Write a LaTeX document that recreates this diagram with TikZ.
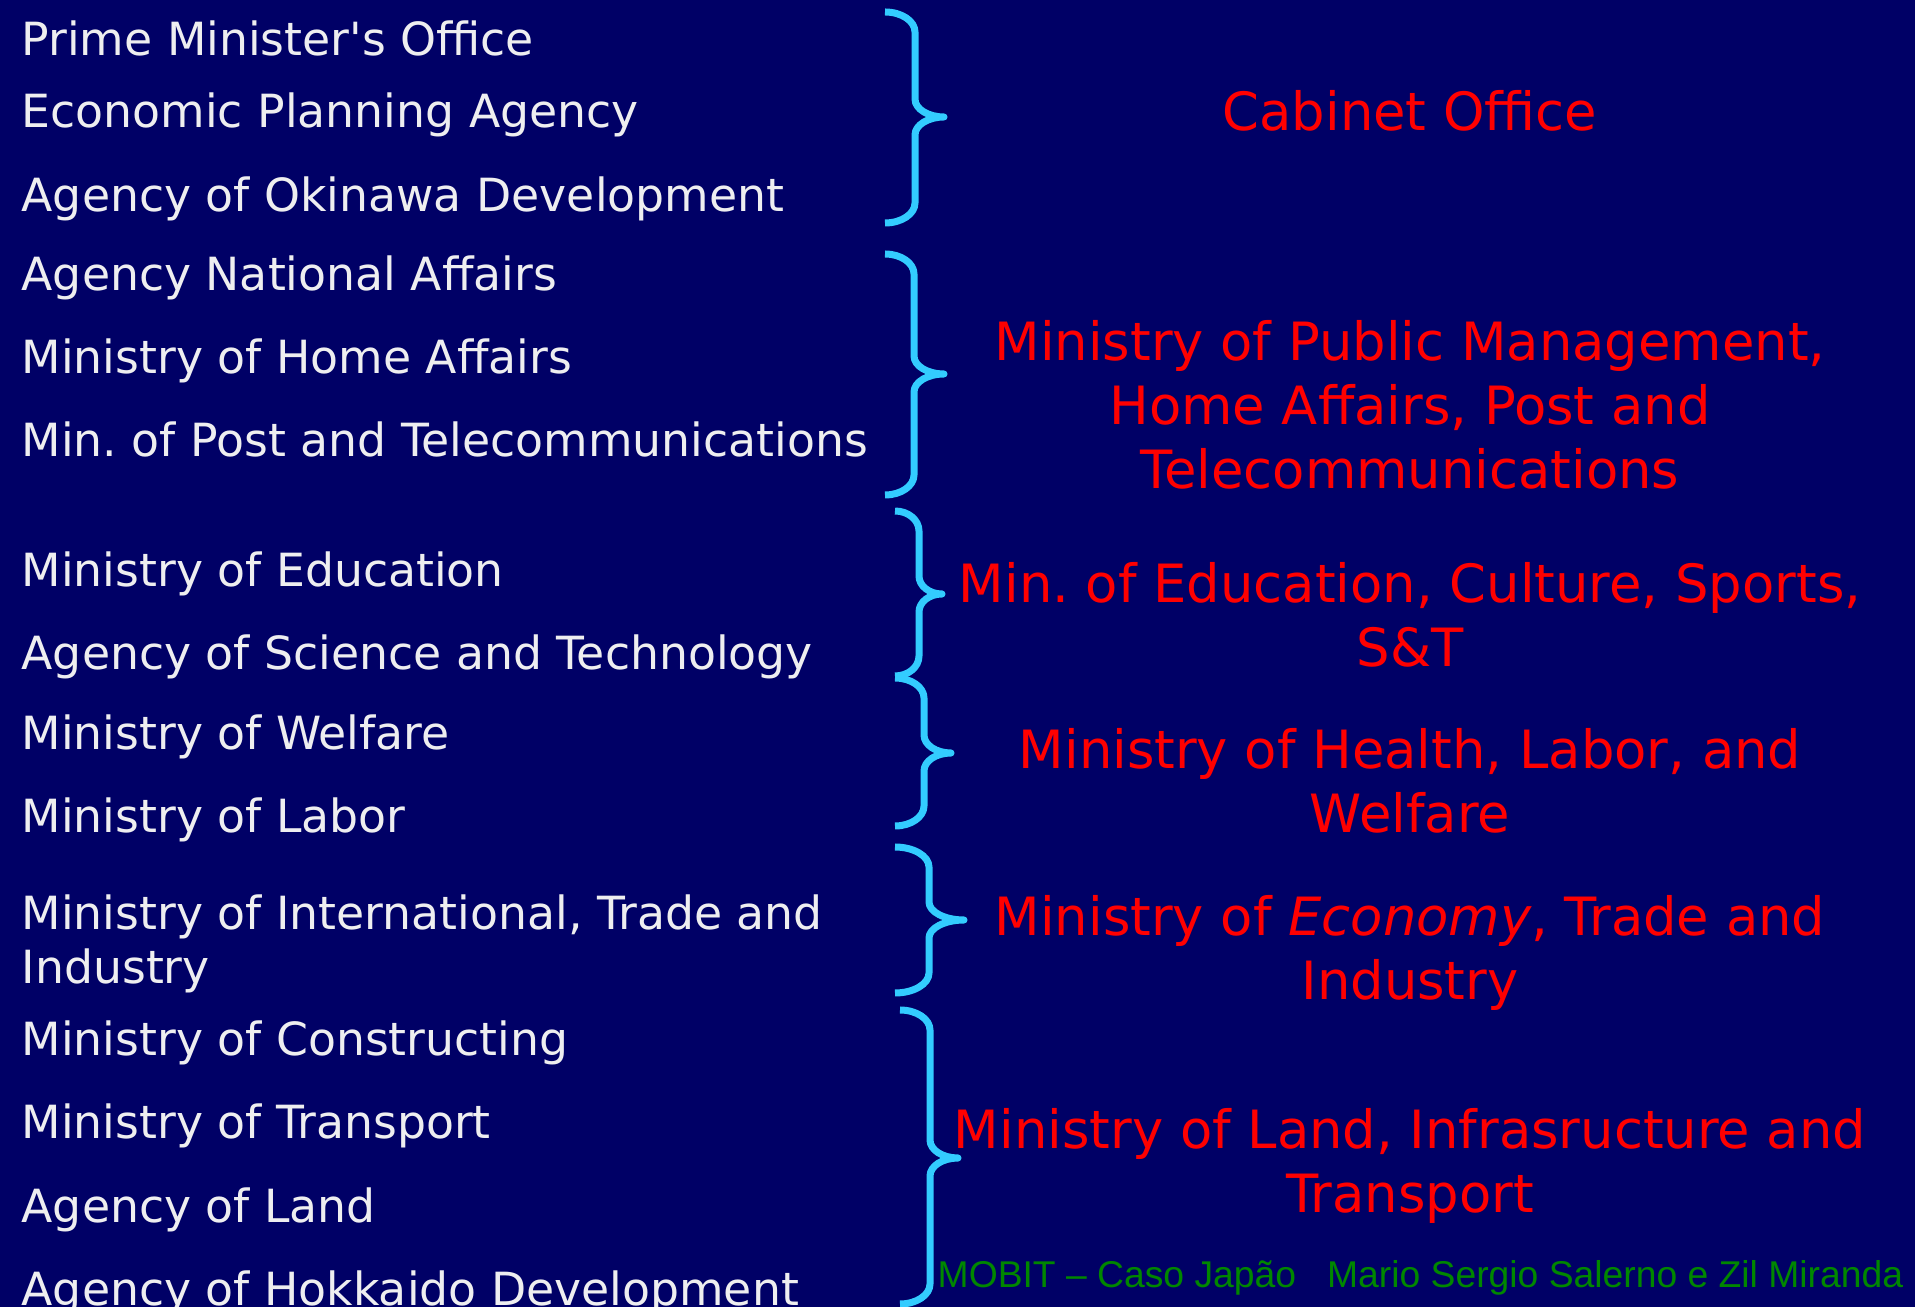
\documentclass[tikz,border=0pt]{standalone}
\usepackage{fontspec}
\setmainfont{DejaVu Sans}
\newfontfamily\footfont{Liberation Sans}
\frenchspacing

\definecolor{navy}{RGB}{0,0,102}
\definecolor{paper}{RGB}{238,238,240}
\definecolor{sky}{RGB}{51,204,255}
\definecolor{leaf}{RGB}{0,135,0}

\begin{document}
\begin{tikzpicture}[x=0.01cm, y=-0.01cm,
    old/.style = {anchor=base west, inner sep=0pt, text=paper, align=left, font=\fontsize{13}{15.4}\selectfont},
    new/.style = {anchor=base, inner sep=0pt, text=red, align=center, font=\fontsize{15}{18.2}\selectfont},
    fold/.style = {draw=sky, line width=0.7mm, line join=round},
    foot/.style = {anchor=base west, inner sep=0pt, text=leaf, font=\footfont\fontsize{10.6}{12}\selectfont}]
    \fill[navy] (0,0) rectangle (1915,1307);
    \useasboundingbox (0,0) rectangle (1915,1307);

    % ministries before the reform
    \node[old] (pmo) at (21,56) {Prime Minister\textquotesingle s Office};
    \node[old] (epa) at (21,128) {Economic Planning Agency};
    \node[old] (aod) at (21,212) {Agency of Okinawa Development};
    \node[old] (ana) at (21,291) {Agency National Affairs};
    \node[old] (mha) at (21,374) {Ministry of Home Affairs};
    \node[old] (mpt) at (21,457) {Min. of Post and Telecommunications};
    \node[old] (med) at (21,587) {Ministry of Education};
    \node[old] (ast) at (21,670) {Agency of Science and Technology};
    \node[old] (mwe) at (21,750) {Ministry of Welfare};
    \node[old] (mla) at (21,833) {Ministry of Labor};
    \node[old] (mit) at (21,984) {Ministry of International, Trade and\\Industry};
    \node[old] (mco) at (21,1055) {Ministry of Constructing};
    \node[old] (mtr) at (21,1138) {Ministry of Transport};
    \node[old] (alnd) at (21,1222) {Agency of Land};
    \node[old] (ahd) at (21,1305) {Agency of Hokkaido Development};

    % braces: number / end x / top / bottom / stem x / tip x / tip y
    \foreach \n/\e/\t/\b/\l/\p/\m in {1/885/12/223/915/944/117,
                                       2/885/254/495/914/944/374,
                                       3/895/511/676/919/942/594,
                                       4/895/678/826/924/951/753,
                                       5/895/847/993/929/964/920,
                                       6/900/1010/1304/930/958/1158} {
        \coordinate (f\n-t) at (\e,\t);
        \coordinate (f\n-m) at (\p,\m);
        \coordinate (f\n-b) at (\e,\b);
        \draw[fold] (f\n-t) .. controls ({\e+0.55*(\l-\e)},\t) and (\l,\t+9) .. (\l,\t+20)
            -- (\l,\m-18) .. controls (\l,\m-8) and ({\p-0.55*(\p-\l)},\m) .. (f\n-m)
            .. controls ({\p-0.55*(\p-\l)},\m) and (\l,\m+8) .. (\l,\m+18)
            -- (\l,\b-20) .. controls (\l,\b-9) and ({\e+0.55*(\l-\e)},\b) .. (f\n-b);
    }

    % ministries after the reform
    \node[new] (cab) at (1410,131) {Cabinet Office};
    \node[new] (mpm) at (1410,489) {Ministry of Public Management,\\Home Affairs, Post and\\Telecommunications};
    \node[new] (mext) at (1410,667) {Min. of Education, Culture, Sports,\\S\&T};
    \node[new] (mhlw) at (1410,833) {Ministry of Health, Labor, and\\Welfare};
    \node[new] (meti) at (1410,1000) {Ministry of \textit{Economy}, Trade and\\Industry};
    \node[new] (mlit) at (1410,1212) {Ministry of Land, Infrasructure and\\Transport};

    \node[foot] (credit) at (937,1287) {MOBIT – Caso Japão~~~Mario Sergio Salerno e Zil Miranda};
\end{tikzpicture}
\end{document}
